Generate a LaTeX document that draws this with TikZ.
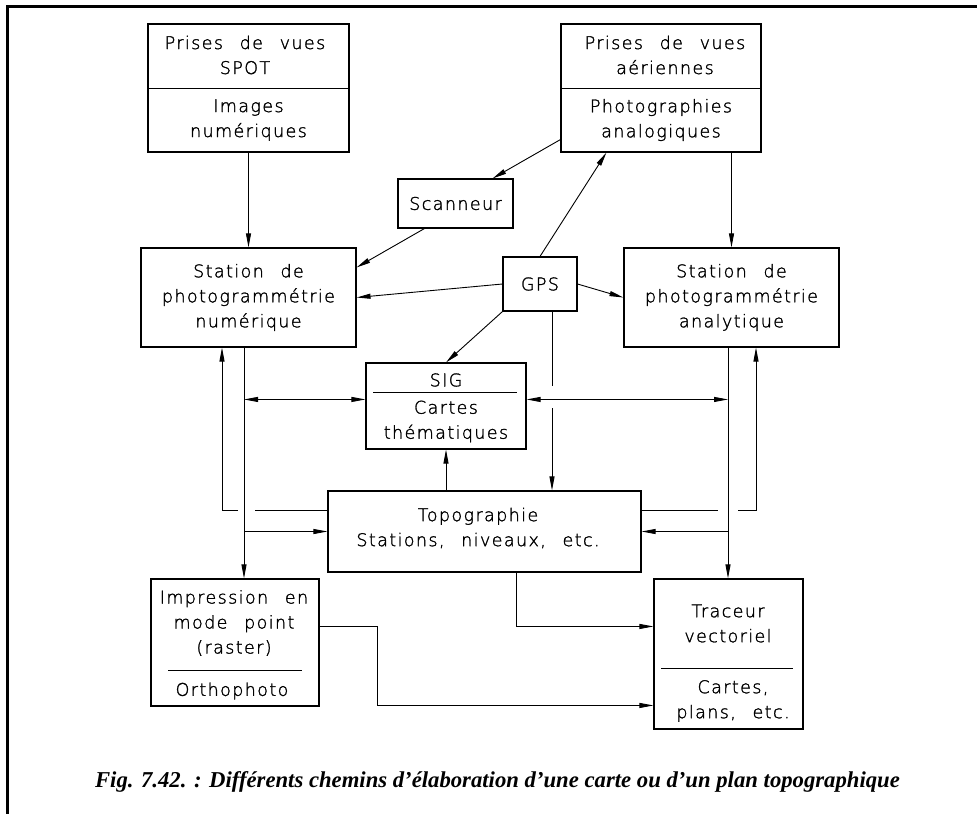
\documentclass[tikz,border=0pt]{standalone}
\usepackage{fontspec}
\newfontfamily\cadfont{DejaVu Sans ExtraLight}[LetterSpace=8,WordSpace=2.4,FakeBold=1.5]
\newfontfamily\capfont{Liberation Serif}
\usetikzlibrary{calc,arrows.meta}

\begin{document}
\begin{tikzpicture}[x=1pt,y=-1pt,>={Triangle[length=14pt,width=5pt]}]
\tikzstyle{box}=[draw,line width=1.1pt,inner sep=0pt,align=center,font={\cadfont\fontsize{17.5}{25}\selectfont}]
\tikzstyle{txt}=[inner sep=0pt,align=center,font={\cadfont\fontsize{17.5}{25}\selectfont}]
\tikzstyle{rule}=[line width=1.1pt]
\tikzstyle{link}=[line width=0.9pt]

\useasboundingbox (0,0) rectangle (977,814);

% boxes
\node (spot) [box,minimum width=201pt,minimum height=128pt] at (248.5,88) {};
\node (spottop) [txt] at (245,55) {Prises de vues\\SPOT};
\node (spotbot) [txt] at (248.5,120) {Images\\numériques};
\draw [rule] ($(spot.north west)+(0,65)$) -- ($(spot.north east)+(0,65)$);

\node (aer) [box,minimum width=200pt,minimum height=128pt] at (661,88) {};
\node (aertop) [txt] at (665,55) {Prises de vues\\aériennes};
\node (aerbot) [txt] at (661,120) {Photographies\\analogiques};
\draw [rule] ($(aer.north west)+(0,65)$) -- ($(aer.north east)+(0,65)$);

\node (scan) [box,minimum width=115pt,minimum height=49pt] at (455.5,203.5) {Scanneur};
\node (num) [box,minimum width=215pt,minimum height=99pt] at (248.5,297.5) {Station de\\photogrammétrie\\numérique};
\node (gps) [box,minimum width=74pt,minimum height=54pt] at (540,284) {GPS};
\node (ana) [box,minimum width=215pt,minimum height=99pt] at (731.5,297.5) {Station de\\photogrammétrie\\analytique};

\node (sig) [box,minimum width=160pt,minimum height=86pt] at (446,406) {};
\node (sigtop) [txt] at (446,380) {SIG};
\node (sigbot) [txt] at (446,421.5) {Cartes\\thématiques};
\draw [rule] ($(sig.north west)+(8,30)$) -- ($(sig.north east)+(-10,30)$);

\node (topo) [box,minimum width=313pt,minimum height=81pt] at (484.5,531.5) {};
\node (topotxt) [txt] at (478,528) {Topographie\\Stations, niveaux, etc.};

\node (imp) [box,minimum width=168pt,minimum height=127pt] at (235,642.5) {};
\node (imptop) [txt] at (234,623) {Impression en\\mode point\\(raster)};
\node (impbot) [txt] at (232,691) {Orthophoto};
\draw [rule] ($(imp.north west)+(18,92)$) -- ($(imp.north east)+(-18,92)$);

\node (trac) [box,minimum width=149pt,minimum height=150pt] at (728.5,654) {};
\node (tractop) [txt] at (728,623.5) {Traceur\\vectoriel};
\node (tracbot) [txt] at (733,701) {Cartes,\\plans, etc.};
\draw [rule] ($(trac.north west)+(8,90)$) -- ($(trac.north east)+(-11,90)$);

% helper points
\path (num.south) + (-4.5,0) coordinate (numdown);
\path (num.south) + (-26.5,0) coordinate (numup);
\path (ana.south) + (-3.5,0) coordinate (anadown);
\path (ana.south) + (24.5,0) coordinate (anaup);
\path (gps.south) + (12,0) coordinate (gpsdown);
\path (sig.north) + (0,37) coordinate (sigline);
\path (topo.north west) + (0,20) coordinate (loopL);
\path (topo.north east) + (0,20) coordinate (loopR);

% connectors
\draw [link,->] (spot.south) -- (num.north);
\draw [link,->] (ana.north |- aer.south) -- (ana.north);
\draw [link,->] ($(aer.south west)+(0,-13)$) -- ($(scan.north east)+(-21,0)$);
\draw [link,->] ($(scan.south west)+(27,0)$) -- ($(num.north east)+(0,20)$);
\draw [link,->] (gps.north) -- ($(aer.south west)+(46,0)$);
\draw [link,->] (gps.west) -- (num.east);
\draw [link,->] (gps.east) -- (ana.west);
\draw [link,->] (gps.south west) -- (sig.north);
\draw [link] (gpsdown) -- ($(gpsdown |- sigline)+(0,-13)$);
\draw [link,->] ($(gpsdown |- sigline)+(0,9)$) -- (gpsdown |- topo.north);

\draw [link,<->] (numdown |- sigline) -- (sig.west |- sigline);
\draw [link,<->] (sig.east |- sigline) -- (anadown |- sigline);
\draw [link,->] (sig.south |- topo.north) -- (sig.south);

\draw [link,->] (numdown) -- (numdown |- imp.north);
\draw [link,->] (numdown |- topo.west) -- (topo.west);
\draw [link] (loopL) -- ($(numdown |- loopL)+(11,0)$);
\draw [link,->] ($(numdown |- loopL)+(-6,0)$) -- (numup |- loopL) -- (numup);

\draw [link,->] (anadown) -- (anadown |- trac.north);
\draw [link,->] (anadown |- topo.east) -- (topo.east);
\draw [link] (loopR) -- ($(anadown |- loopR)+(-10,0)$);
\draw [link,->] ($(anadown |- loopR)+(10,0)$) -- (anaup |- loopR) -- (anaup);

\draw [link,->] ($(topo.south)+(31.5,0)$) |- ($(trac.north west)+(0,48)$);
\draw [link,->] ($(imp.north east)+(0,48)$) -- ++(58,0) |- ($(trac.north west)+(0,127)$);

% caption and frame
\node (caption) [anchor=base,inner sep=0pt,font={\capfont\bfseries\itshape\fontsize{22.7}{27}\selectfont}] at (497.5,787) {Fig. 7.42. : Différents chemins d’élaboration d’une carte ou d’un plan topographique};
\draw [line width=3pt] (977,6.5) -- (7.5,6.5) -- (7.5,814);

\end{tikzpicture}
\end{document}
